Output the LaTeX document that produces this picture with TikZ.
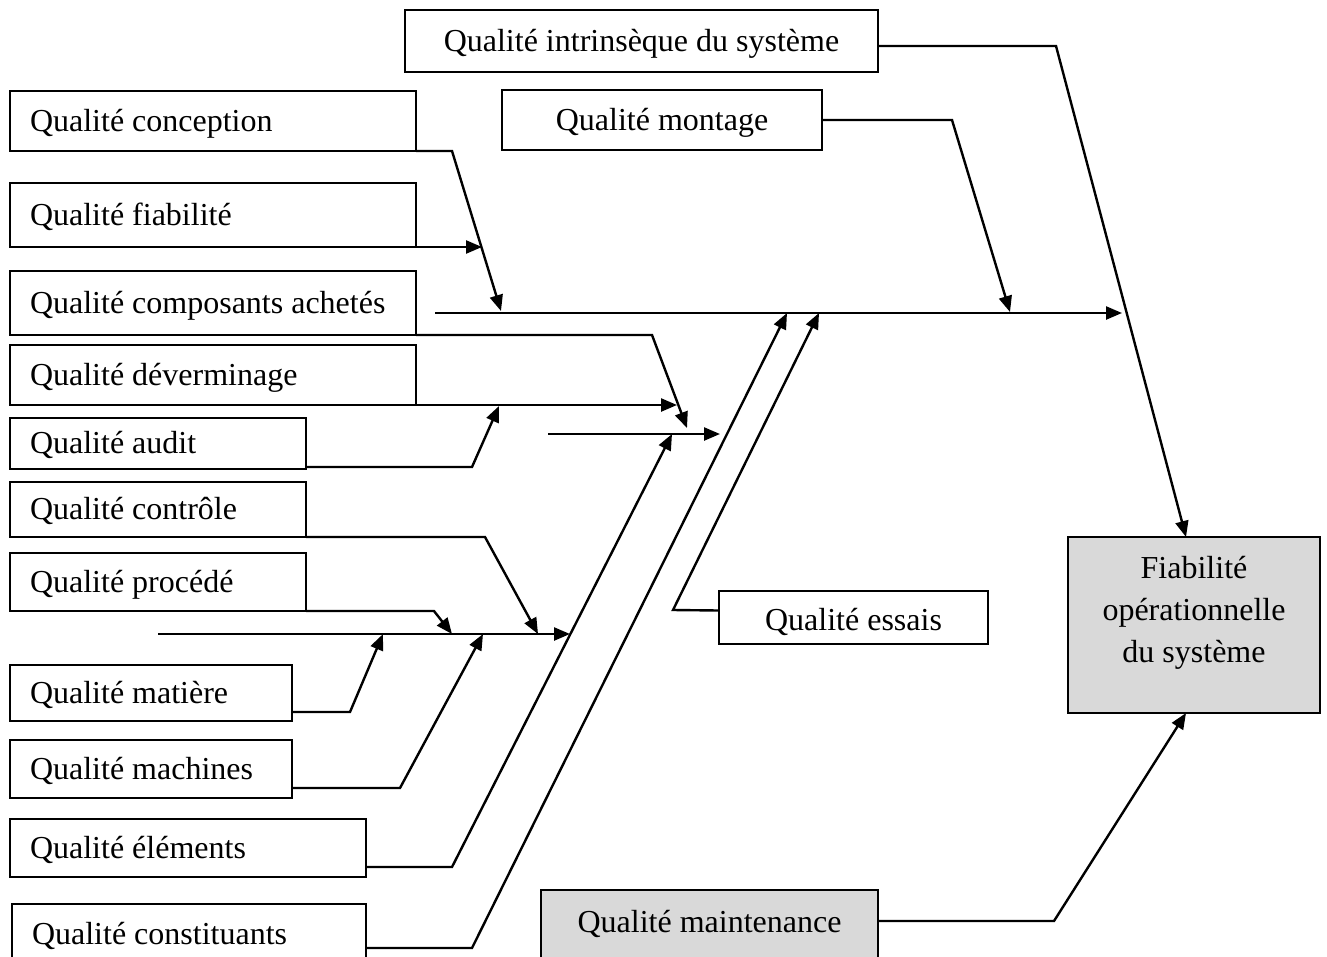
\documentclass[tikz,border=0pt]{standalone}
\usepackage{fontspec}
\setmainfont{Liberation Serif}
\usetikzlibrary{arrows.meta}
\definecolor{boxgray}{RGB}{217,217,217}
\begin{document}
\begin{tikzpicture}[x=1pt,y=-1pt,
  txt/.style={font=\fontsize{32}{42}\selectfont},
  box/.style={draw, line width=2.2pt, inner sep=0pt, outer sep=0pt, txt,
    text height=26pt, text depth=6pt, anchor=north west},
  lbox/.style 2 args={box, inner xsep=20pt, text width=#1,
    minimum height=#2, align=flush left},
  cbox/.style 2 args={box, minimum width=#1, minimum height=#2, align=center},
  conn/.style={line width=2.4pt},
  arr/.style={conn, -{Triangle[length=16pt,width=13pt]}}]
\clip (0,0) rectangle (1327,956);
\fill[white] (0,0) rectangle (1327,956);

% left column of contributing factors
\node[lbox={366pt}{60pt}] (concep) at (10,91)  {Qualité conception};
\node[lbox={366pt}{64pt}] (fiab)   at (10,183) {Qualité fiabilité};
\node[lbox={366pt}{64pt}] (compo)  at (10,271) {Qualité composants achetés};
\node[lbox={366pt}{60pt}] (dever)  at (10,345) {Qualité déverminage};
\node[lbox={256pt}{51pt}] (audit)  at (10,418) {Qualité audit};
\node[lbox={256pt}{55pt}] (ctrl)   at (10,482) {Qualité contrôle};
\node[lbox={256pt}{58pt}] (proc)   at (10,553) {Qualité procédé};
\node[lbox={242pt}{56pt}] (mat)    at (10,665) {Qualité matière};
\node[lbox={242pt}{58pt}] (mach)   at (10,740) {Qualité machines};
\node[lbox={316pt}{58pt}] (elem)   at (10,819) {Qualité éléments};
\node[lbox={314pt}{60pt}] (const)  at (12,904) {Qualité constituants};

% upper, middle and lower boxes
\node[cbox={473pt}{62pt}] (intr)   at (405,10)  {Qualité intrinsèque du système};
\node[cbox={320pt}{60pt}] (mont)   at (502,90)  {Qualité montage};
\node[cbox={269pt}{53pt}, text height=29pt, text depth=3pt] (essais) at (719,591) {Qualité essais};
\node[cbox={337pt}{80pt}, fill=boxgray, text depth=22pt] (maint) at (541,890) {Qualité maintenance};

% result
\node[draw, line width=2.2pt, fill=boxgray, anchor=north west, inner sep=0pt,
  outer sep=0pt, minimum width=252pt, minimum height=176pt, align=center, txt,
  text depth=32pt] (fiabop) at (1068,537) {Fiabilité\\opérationnelle\\du système};

% spines
\coordinate (s1a) at (435,313);  \coordinate (s1b) at (1122,313);
\coordinate (s2a) at (548,434);  \coordinate (s2b) at (720,434);
\coordinate (s3a) at (158,634);  \coordinate (s3b) at (570,634);
\draw[arr] (s1a) -- (s1b);
\draw[arr] (s2a) -- (s2b);
\draw[arr] (s3a) -- (s3b);

% knees and arrow tips
\coordinate (kIntr) at (1056,46);
\coordinate (kMont) at (952,120);   \coordinate (tMont) at (1010,312);
\coordinate (kConc) at (452,151);   \coordinate (tConc) at (501,311);
\coordinate (tFiab) at (482,247);
\coordinate (kComp) at (652,335);   \coordinate (tComp) at (687,428);
\coordinate (tDev)  at (677,405);
\coordinate (kAud)  at (472,467);   \coordinate (tAud)  at (499,406);
\coordinate (kEss)  at (673,610);   \coordinate (tEss)  at (819,313);
\coordinate (kElem) at (452,867);   \coordinate (tElem) at (672,434);
\coordinate (kCons) at (472,948);   \coordinate (tCons) at (787,313);
\coordinate (kCtrl) at (485,537);   \coordinate (tCtrl) at (538,634);
\coordinate (kProc) at (434,611);   \coordinate (tProc) at (452,634);
\coordinate (kMat)  at (350,712);   \coordinate (tMat)  at (383,634);
\coordinate (kMach) at (400,788);   \coordinate (tMach) at (483,634);
\coordinate (kMain) at (1054,921);

% connectors
\draw[arr] ([yshift=-5pt]intr.east) -- (kIntr) -- ([xshift=-8pt]fiabop.north);
\draw[arr] (mont.east) -- (kMont) -- (tMont);
\draw[arr] (concep.south east) -- (kConc) -- (tConc);
\draw[arr] (fiab.south east) -- (tFiab);
\draw[arr] (compo.south east) -- (kComp) -- (tComp);
\draw[arr] (dever.south east) -- (tDev);
\draw[arr] ([yshift=2pt]audit.south east) -- (kAud) -- (tAud);
\draw[arr] ([yshift=7pt]essais.west) -- (kEss) -- (tEss);
\draw[arr] ([yshift=10pt]elem.south east) -- (kElem) -- (tElem);
\draw[arr] ([yshift=16pt]const.south east) -- (kCons) -- (tCons);
\draw[arr] (ctrl.south east) -- (kCtrl) -- (tCtrl);
\draw[arr] (proc.south east) -- (kProc) -- (tProc);
\draw[arr] ([yshift=9pt]mat.south east) -- (kMat) -- (tMat);
\draw[arr] ([yshift=10pt]mach.south east) -- (kMach) -- (tMach);
\draw[arr] ([yshift=9pt]maint.east) -- (kMain) -- ([xshift=-8pt]fiabop.south);
\end{tikzpicture}
\end{document}
